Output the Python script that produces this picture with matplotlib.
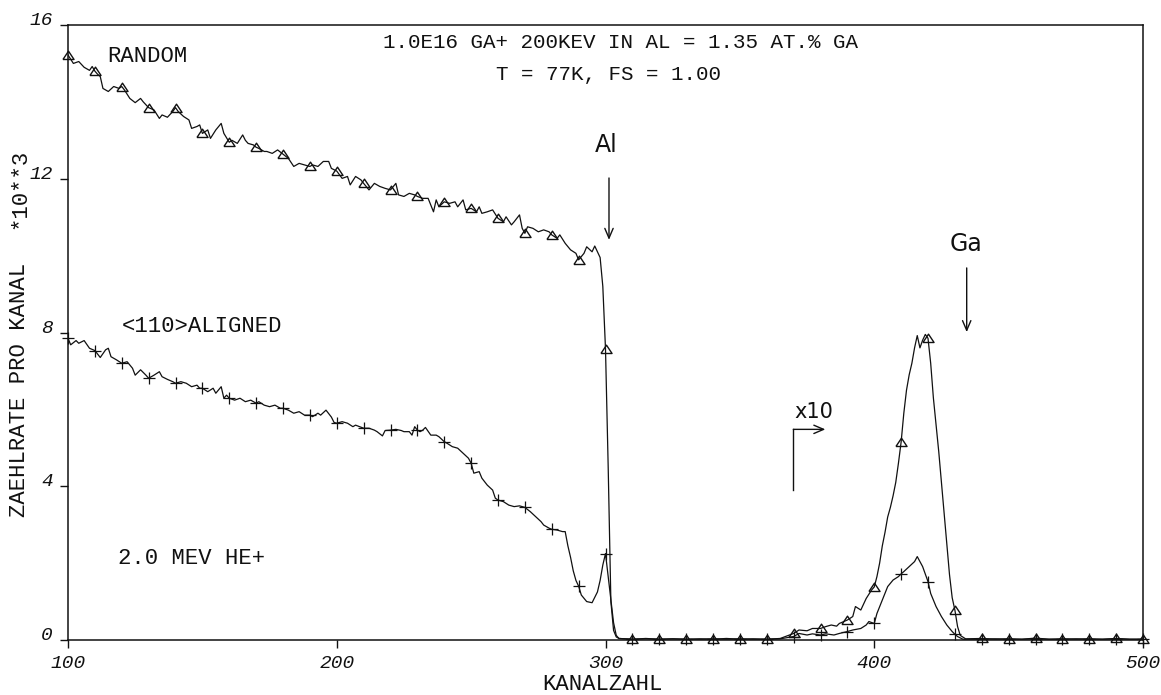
import numpy as np
import matplotlib
matplotlib.use("Agg")
import matplotlib.pyplot as plt
from matplotlib.transforms import Affine2D

# ---------------------------------------------------------------------------
# RBS spectra, 2.0 MeV He+ on Al implanted with Ga (counts / 1000 per channel)
# channels >= 370 are shown magnified x10
# ---------------------------------------------------------------------------
random_ch = [
    100, 102, 104, 106, 108, 109, 110, 111, 112, 113, 115, 117, 119, 120, 121, 123, 125, 127, 128, 130,
    132, 134, 135, 137, 139, 140, 141, 143, 145, 146, 148, 149, 150, 152, 153, 155, 157, 158, 160, 161,
    163, 165, 166, 167, 169, 170, 171, 173, 174, 176, 178, 180, 182, 184, 186, 188, 190, 191, 193, 195,
    197, 198, 200, 202, 204, 205, 207, 209, 210, 212, 214, 216, 218, 220, 222, 223, 225, 227, 229, 230,
    232, 234, 236, 237, 238, 240, 242, 244, 245, 247, 248, 250, 252, 253, 254, 256, 258, 260, 262, 263,
    265, 266, 268, 269, 270, 271, 273, 275, 277, 279, 280, 282, 283, 285, 287, 289, 290, 292, 293, 295,
    296, 298, 299, 300, 301, 302, 303, 304, 305, 310, 315, 320, 325, 330, 335, 340, 345, 350, 355, 360,
    365, 370, 372, 375, 377, 380, 382, 384, 386, 387, 390, 392, 393, 395, 397, 399, 400, 401, 402, 403,
    404, 405, 406, 407, 408, 409, 410, 411, 412, 413, 414, 415, 416, 417, 418, 419, 420, 421, 422, 423,
    424, 425, 426, 427, 428, 429, 430, 431, 432, 434, 440, 445, 450, 455, 460, 465, 470, 475, 480, 485,
    490, 495, 500,
]
random_cts = [
    15.22, 15.00, 15.05, 14.90, 14.82, 14.92, 14.80, 14.72, 14.66, 14.35, 14.27, 14.40, 14.35, 14.40, 14.31, 14.09, 13.98, 14.09, 14.00, 13.85,
    13.79, 13.57, 13.66, 13.60, 13.75, 13.85, 13.75, 13.62, 13.53, 13.31, 13.36, 13.40, 13.18, 13.27, 13.05, 13.27, 13.44, 13.18, 12.95, 13.00,
    12.92, 13.14, 13.00, 12.92, 12.88, 12.82, 12.79, 12.71, 12.71, 12.66, 12.75, 12.64, 12.53, 12.32, 12.40, 12.36, 12.32, 12.36, 12.32, 12.45,
    12.45, 12.27, 12.20, 12.01, 12.06, 11.84, 12.06, 11.97, 11.88, 11.71, 11.88, 11.80, 11.75, 11.71, 11.88, 11.58, 11.54, 11.62, 11.58, 11.54,
    11.49, 11.49, 11.14, 11.45, 11.27, 11.40, 11.36, 11.40, 11.27, 11.45, 11.19, 11.23, 11.14, 11.27, 11.10, 11.14, 11.19, 10.97, 10.88, 11.01,
    10.80, 10.88, 11.06, 10.71, 10.58, 10.75, 10.71, 10.62, 10.67, 10.62, 10.54, 10.45, 10.54, 10.32, 10.15, 10.06, 9.89, 10.06, 10.23, 10.10,
    10.25, 9.95, 9.20, 7.57, 4.50, 1.00, 0.25, 0.08, 0.04, 0.02, 0.04, 0.02, 0.03, 0.02, 0.03, 0.02, 0.04, 0.02, 0.03, 0.02,
    0.04, 0.17, 0.26, 0.24, 0.30, 0.30, 0.35, 0.39, 0.36, 0.43, 0.52, 0.61, 0.87, 0.78, 1.08, 1.30, 1.38, 1.65, 2.00, 2.45,
    2.80, 3.20, 3.45, 3.75, 4.10, 4.60, 5.15, 5.90, 6.50, 6.90, 7.20, 7.60, 7.92, 7.60, 7.80, 7.95, 7.85, 7.20, 6.30, 5.60,
    4.90, 4.10, 3.30, 2.50, 1.70, 1.10, 0.78, 0.35, 0.12, 0.03, 0.04, 0.02, 0.03, 0.02, 0.05, 0.02, 0.03, 0.02, 0.03, 0.02,
    0.04, 0.02, 0.02,
]

aligned_ch = [
    100, 101, 103, 104, 106, 108, 110, 112, 114, 115, 116, 118, 120, 122, 124, 125, 127, 129, 130, 132,
    134, 135, 137, 139, 140, 142, 144, 146, 148, 149, 150, 152, 154, 155, 157, 158, 159, 160, 162, 164,
    166, 168, 170, 171, 173, 175, 177, 179, 180, 182, 184, 186, 188, 190, 191, 193, 194, 196, 198, 199,
    200, 202, 204, 206, 207, 210, 212, 214, 215, 217, 218, 220, 222, 224, 225, 227, 228, 229, 230, 231,
    232, 233, 235, 237, 238, 240, 241, 243, 245, 247, 249, 250, 251, 253, 254, 256, 258, 259, 260, 262,
    264, 266, 268, 270, 272, 274, 276, 277, 279, 280, 282, 284, 285, 286, 287, 288, 289, 290, 291, 293,
    295, 297, 298, 299, 300, 301, 302, 303, 304, 305, 310, 315, 320, 325, 330, 335, 340, 345, 350, 355,
    360, 365, 370, 372, 375, 377, 380, 382, 385, 387, 390, 392, 395, 397, 398, 400, 401, 403, 405, 407,
    409, 410, 411, 413, 415, 416, 418, 420, 421, 423, 425, 427, 429, 430, 431, 433, 440, 445, 450, 455,
    460, 465, 470, 475, 480, 485, 490, 495, 500,
]
aligned_cts = [
    7.85, 7.68, 7.79, 7.72, 7.79, 7.59, 7.53, 7.35, 7.55, 7.59, 7.37, 7.29, 7.20, 7.24, 7.07, 6.89, 7.03, 6.89, 6.81, 6.89,
    6.98, 6.85, 6.78, 6.72, 6.68, 6.72, 6.68, 6.59, 6.63, 6.55, 6.55, 6.46, 6.55, 6.42, 6.59, 6.29, 6.37, 6.29, 6.24, 6.29,
    6.20, 6.24, 6.16, 6.20, 6.11, 6.07, 6.11, 6.03, 6.03, 5.98, 5.90, 5.94, 5.85, 5.85, 5.81, 5.90, 5.85, 5.98, 5.80, 5.66,
    5.64, 5.68, 5.64, 5.55, 5.59, 5.51, 5.51, 5.46, 5.42, 5.31, 5.45, 5.46, 5.48, 5.45, 5.42, 5.42, 5.33, 5.55, 5.46, 5.42,
    5.46, 5.53, 5.33, 5.33, 5.29, 5.16, 5.12, 5.03, 4.99, 4.86, 4.73, 4.60, 4.34, 4.38, 4.21, 4.03, 3.90, 3.69, 3.64, 3.60,
    3.51, 3.47, 3.49, 3.45, 3.34, 3.21, 3.08, 2.99, 2.91, 2.88, 2.86, 2.82, 2.82, 2.45, 2.15, 1.80, 1.55, 1.40, 1.17, 1.00,
    0.97, 1.25, 1.55, 1.95, 2.25, 1.65, 1.05, 0.45, 0.12, 0.04, 0.02, 0.03, 0.02, 0.03, 0.02, 0.02, 0.03, 0.02, 0.03, 0.02,
    0.02, 0.03, 0.09, 0.17, 0.13, 0.16, 0.13, 0.16, 0.13, 0.17, 0.22, 0.26, 0.30, 0.39, 0.48, 0.43, 0.69, 1.04, 1.39, 1.56,
    1.65, 1.72, 1.78, 1.91, 2.04, 2.17, 1.91, 1.52, 1.21, 0.87, 0.61, 0.39, 0.22, 0.15, 0.09, 0.02, 0.02, 0.03, 0.02, 0.02,
    0.03, 0.02, 0.02, 0.03, 0.02, 0.02, 0.03, 0.02, 0.02,
]

x_ticks = [100, 200, 300, 400, 500]
y_ticks = [0, 4, 8, 12, 16]
marker_step = 10

title_lines = ["1.0E16 GA+ 200KEV IN AL = 1.35 AT.% GA", "T = 77K, FS = 1.00"]

# ---------------------------------------------------------------------------
W, H = 1161, 695
fig = plt.figure(figsize=(W / 100, H / 100), dpi=100)
fig.patch.set_facecolor("white")

L, R, T, B = 68, 1143, 25, 640
ax = fig.add_axes([L / W, 1 - B / H, (R - L) / W, (B - T) / H])
ax.set_xlim(100, 500)
ax.set_ylim(0, 16)

mono = "Liberation Mono"
ink = "#111111"

def fig_px(x, y):
    return x / W, 1 - y / H

# open triangle symbol, a little flatter than it is wide
tri = [(-1, -0.72), (1, -0.72), (0, 0.78), (-1, -0.72)]

rc = np.asarray(random_ch)
rv = np.asarray(random_cts)
ac = np.asarray(aligned_ch)
av = np.asarray(aligned_cts)

ax.plot(rc, rv, color=ink, lw=0.9, zorder=3)
ax.plot(ac, av, color=ink, lw=0.9, zorder=3)

rm = rc % marker_step == 0
am = ac % marker_step == 0
ax.plot(rc[rm], rv[rm], ls="none", marker=tri, ms=8.0, mfc="none", mec=ink, mew=1.0,
        clip_on=False, zorder=4)
ax.plot(ac[am], av[am], ls="none", marker="+", ms=8.5, mec=ink, mew=0.9,
        clip_on=False, zorder=4)

# frame and ticks
for s in ax.spines.values():
    s.set_linewidth(1.1)
    s.set_color(ink)
ax.set_xticks(x_ticks)
ax.set_yticks(y_ticks)
ax.tick_params(direction="out", length=6, width=1.0, color=ink, pad=5)
ax.tick_params(top=False, right=False)
ax.set_xticklabels([str(v) for v in x_ticks], fontfamily=mono, fontsize=14,
                   fontstyle="italic", color=ink)
ax.set_yticklabels([str(v) for v in y_ticks], fontfamily=mono, fontsize=14,
                   fontstyle="italic", color=ink)
for lab in ax.get_yticklabels():
    lab.set_verticalalignment("baseline")

# header
fig.text(*fig_px(621, 43), title_lines[0], ha="center", va="center",
         fontfamily=mono, fontsize=15, color=ink)
fig.text(*fig_px(608, 75), title_lines[1], ha="center", va="center",
         fontfamily=mono, fontsize=15, color=ink)

# spectrum labels
fig.text(*fig_px(107, 57), "RANDOM", ha="left", va="center",
         fontfamily=mono, fontsize=16, color=ink)
fig.text(*fig_px(122, 327), "<110>ALIGNED", ha="left", va="center",
         fontfamily=mono, fontsize=16, color=ink)
fig.text(*fig_px(118, 558), "2.0 MEV HE+", ha="left", va="center",
         fontfamily=mono, fontsize=16, color=ink)

# axis titles
fig.text(*fig_px(20, 390), "ZAEHLRATE PRO KANAL", rotation=90, ha="center", va="center",
         fontfamily=mono, fontsize=16, color=ink)
fig.text(*fig_px(20, 189), "*10**3", rotation=90, ha="center", va="center",
         fontfamily=mono, fontsize=16, color=ink)
fig.text(*fig_px(602, 684), "KANALZAHL", ha="center", va="center",
         fontfamily=mono, fontsize=16, color=ink)

# surface edge markers
arrow = dict(arrowstyle="->,head_length=0.7,head_width=0.3", color=ink, lw=1.0,
             shrinkA=0, shrinkB=0)
al_x, al_top, al_tip = 301.3, 12.02, 10.41
ga_x, ga_top, ga_tip = 434.4, 9.68, 8.01
ax.annotate("", xy=(al_x, al_tip), xytext=(al_x, al_top), arrowprops=arrow)
ax.annotate("", xy=(ga_x, ga_tip), xytext=(ga_x, ga_top), arrowprops=arrow)
ax.text(al_x - 1.0, al_top + 0.55, "Al", ha="center", va="bottom",
        fontfamily="DejaVu Sans", fontsize=17, color=ink)
ax.text(ga_x - 0.2, ga_top + 0.30, "Ga", ha="center", va="bottom",
        fontfamily="DejaVu Sans", fontsize=17, color=ink)

# x10 magnification mark
mag_x0, mag_x1, mag_y0, mag_y1 = 369.9, 381.8, 3.90, 5.48
ax.plot([mag_x0, mag_x0], [mag_y0, mag_y1], color=ink, lw=1.0)
ax.annotate("", xy=(mag_x1, mag_y1), xytext=(mag_x0, mag_y1), arrowprops=arrow)
ax.text(mag_x0 + 0.4, mag_y1 + 0.2, "x10", ha="left", va="bottom",
        fontfamily="DejaVu Sans", fontsize=15, color=ink)

fig.savefig("out.png", dpi=100, facecolor="white")
